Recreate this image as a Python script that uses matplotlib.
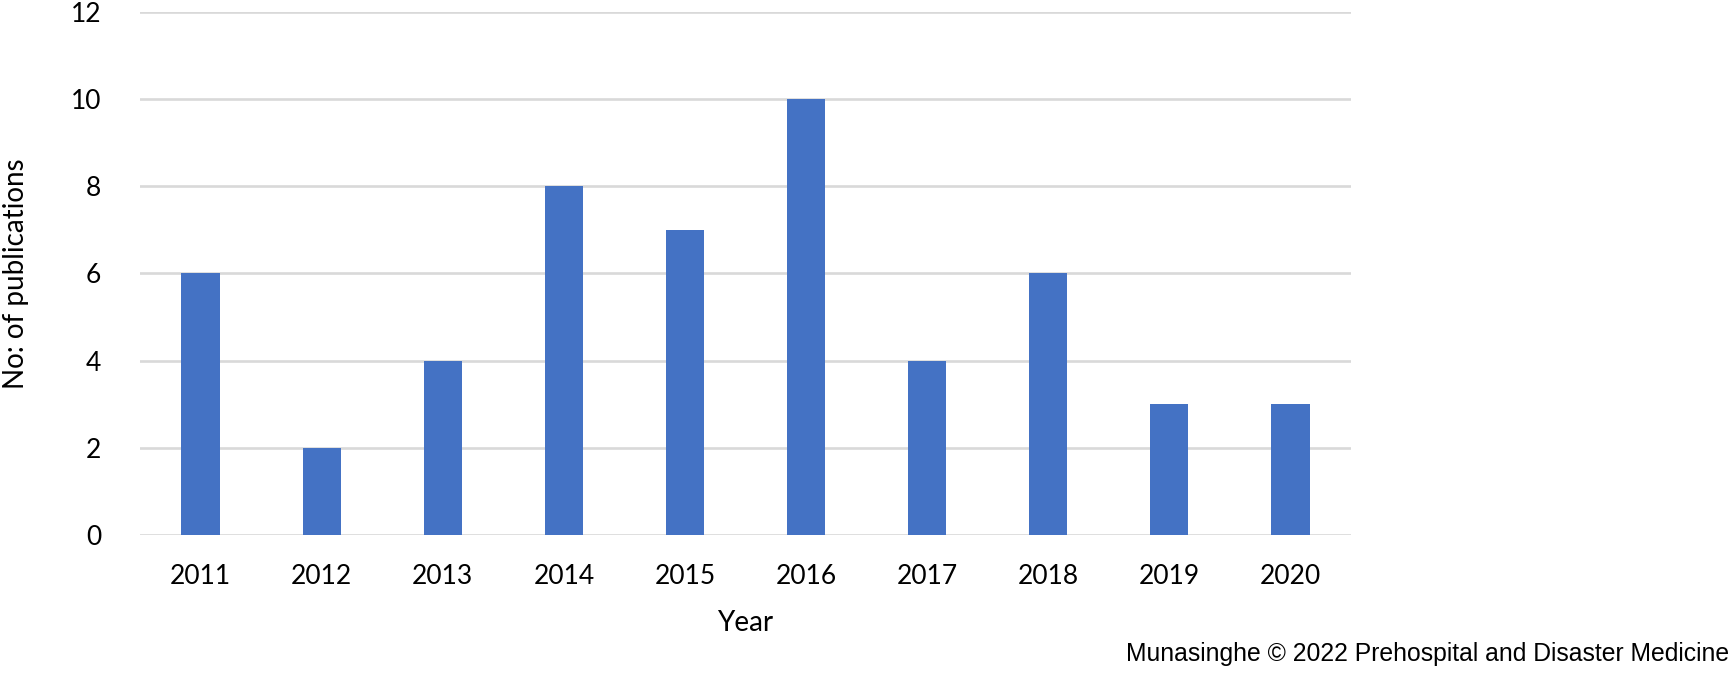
import matplotlib
matplotlib.use("Agg")
import matplotlib.pyplot as plt
import numpy as np

years = ["2011", "2012", "2013", "2014", "2015", "2016", "2017", "2018", "2019", "2020"]
publications = [6, 2, 4, 8, 7, 10, 4, 6, 3, 3]
y_ticks = [0, 2, 4, 6, 8, 10, 12]

BAR_COLOR = "#4472C4"
GRID_COLOR = "#D9D9D9"
FONT = "Lato"

fig = plt.figure(figsize=(17.35, 6.74), dpi=100)
ax = fig.add_axes([0.0807, 0.2062, 0.6980, 0.7764])

x = np.arange(len(years))
ax.bar(x, publications, width=0.315, color=BAR_COLOR, zorder=3)
ax.set_xlim(-0.5, len(years) - 0.5)
ax.set_ylim(0, 12)
ax.set_yticks(y_ticks)
ax.set_xticks(x)
ax.set_xticklabels(years)

for v in y_ticks:
    ax.axhline(v, color=GRID_COLOR, linewidth=1.9, zorder=1)

for s in ax.spines.values():
    s.set_visible(False)
ax.tick_params(axis="both", length=0, labelsize=19)
ax.tick_params(axis="y", pad=28)
ax.tick_params(axis="x", pad=21)
for lab in ax.get_xticklabels() + ax.get_yticklabels():
    lab.set_fontfamily(FONT)

ax.set_xlabel("Year", fontsize=20, fontfamily=FONT, labelpad=15)
ax.set_ylabel("No: of publications", fontsize=20, fontfamily=FONT, labelpad=30)

fig.text(0.9965, 0.012, "Munasinghe \u00a9 2022 Prehospital and Disaster Medicine",
         ha="right", va="bottom", fontsize=17.8, fontfamily="Liberation Sans")

fig.savefig("out.png", dpi=100)
plt.close(fig)
